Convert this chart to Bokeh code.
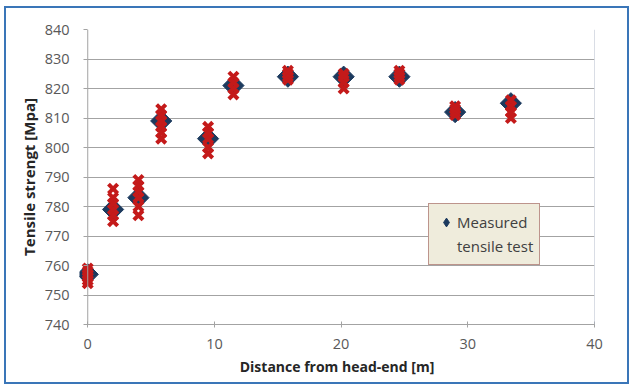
from bokeh.plotting import figure
from bokeh.models import ColumnDataSource, Legend, LegendItem, FixedTicker, Range1d, Span
from bokeh.embed import file_html
from bokeh.resources import INLINE

# Measured tensile test (mean) per position
dist = [0, 2, 4, 5.8, 9.5, 11.5, 15.8, 20.2, 24.6, 29, 33.4]
strength = [757, 779, 783, 809, 803, 821, 824, 824, 824, 812, 815]

# Individual samples (red X markers)
sample_dist = ([0]*6 + [2]*6 + [4]*6 + [5.8]*6 + [9.5]*5 + [11.5]*4 +
               [15.8]*4 + [20.2]*4 + [24.6]*4 + [29]*4 + [33.4]*4)
sample_val = [754, 755, 756, 757, 758, 759,
              775, 777, 779, 781, 783, 786,
              777, 780, 783, 785, 787, 789,
              803, 805, 807, 809, 811, 813,
              798, 800, 803, 805, 807,
              818, 820, 822, 824,
              823, 824, 825, 826,
              820, 822, 824, 825,
              823, 824, 825, 826,
              811, 812, 813, 814,
              810, 812, 814, 816]

x_ticks = [0, 10, 20, 30, 40]
y_ticks = [740, 750, 760, 770, 780, 790, 800, 810, 820, 830, 840]
x_min, x_max = 0, 40

FONT = "Open Sans"
GRID = "#a3a3a3"
NAVY = "#1c3a5e"

p = figure(width=625, height=378, output_backend="svg", toolbar_location=None,
           x_range=Range1d(-0.65, 40), y_range=Range1d(740, 840),
           min_border_left=73, min_border_right=37, min_border_top=21,
           min_border_bottom=62)
p.styles = {"border": "2px solid #3a76b8", "margin-left": "4px", "margin-top": "6px"}

p.background_fill_color = "white"
p.border_fill_color = "white"
p.outline_line_color = None

p.xgrid.grid_line_color = None
p.ygrid.grid_line_color = GRID
p.ygrid.grid_line_width = 1
p.ygrid.cross_bounds = (x_min, x_max)

p.add_layout(Span(location=x_min, dimension="height", line_color=GRID, line_width=1))
p.add_layout(Span(location=x_max, dimension="height", line_color="#b4bccc", line_width=1))

p.xaxis.ticker = FixedTicker(ticks=x_ticks)
p.yaxis.ticker = FixedTicker(ticks=y_ticks)
p.xaxis.bounds = (x_min, x_max)
p.xaxis.minor_tick_line_color = None
p.yaxis.minor_tick_line_color = None
for ax in (p.xaxis, p.yaxis):
    ax.axis_line_color = GRID
    ax.major_tick_line_color = GRID
    ax.major_label_text_font = FONT
    ax.major_label_text_font_size = "14.5px"
    ax.major_label_text_color = "#595959"
    ax.axis_label_text_font = FONT
    ax.axis_label_text_font_style = "bold"
    ax.axis_label_text_color = "#262626"
p.yaxis.axis_line_color = None
p.xaxis.axis_label_text_font_size = "14px"
p.yaxis.axis_label_text_font_size = "15px"
p.xaxis.major_tick_in = 3
p.xaxis.major_tick_out = 3
p.yaxis.major_tick_in = 8
p.yaxis.major_tick_out = -4
p.yaxis.minor_tick_out = -4
p.xaxis.major_label_standoff = 11
p.yaxis.major_label_standoff = 10
p.xaxis.axis_label = "Distance from head-end [m]"
p.yaxis.axis_label = "Tensile strengt [Mpa]"
p.xaxis.axis_label_standoff = 5
p.yaxis.axis_label_standoff = 3

src = ColumnDataSource(dict(x=dist, y=strength))
p.scatter("x", "y", source=src, marker="square", angle=0.785398, size=15,
          fill_color=NAVY, line_color=NAVY)

src2 = ColumnDataSource(dict(x=sample_dist, y=sample_val))
p.scatter("x", "y", source=src2, marker="x", size=13,
          line_color="#c41a1a", line_width=4)

# hidden renderers used only to draw the legend keys
r_key = p.scatter("x", "y", source=src, marker="diamond", size=10,
                  fill_color=NAVY, line_color=NAVY, visible=False)
r_blank = p.scatter("x", "y", source=src, marker="square", size=1,
                    fill_alpha=0, line_alpha=0, visible=False)

legend = Legend(items=[LegendItem(label="Measured", renderers=[r_key]),
                       LegendItem(label="tensile test", renderers=[r_blank])],
                location=(349, 59))
legend.background_fill_color = "#efecdc"
legend.background_fill_alpha = 1
legend.border_line_color = "#8c3c3c"
legend.border_line_width = 1.5
legend.label_text_font = FONT
legend.label_text_font_size = "15px"
legend.label_text_color = "#404040"
legend.glyph_width = 22
legend.glyph_height = 22
legend.label_height = 24
legend.label_standoff = 0
legend.padding = 6
legend.spacing = 0
legend.margin = 0
p.add_layout(legend, "center")

open("out.html", "w").write(file_html(p, INLINE))
